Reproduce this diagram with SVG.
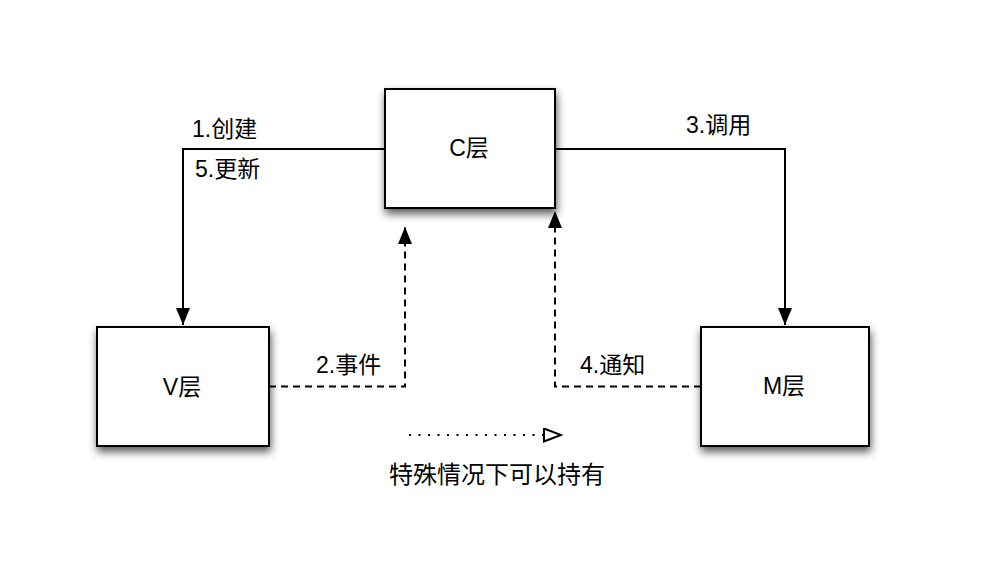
<svg xmlns="http://www.w3.org/2000/svg" width="986" height="564" viewBox="0 0 986 564">
<style>
.box{fill:#fff;stroke:#000;stroke-width:2;filter:url(#sh)}
.t{font-family:"Liberation Sans","Noto Sans CJK SC",sans-serif;font-size:23px;fill:#000}
.c{text-anchor:middle}
.solid{fill:none;stroke:#000;stroke-width:2;marker-end:url(#ah)}
.dash{fill:none;stroke:#000;stroke-width:2;stroke-dasharray:7,5;marker-end:url(#ah)}
.dot{fill:none;stroke:#000;stroke-width:2;stroke-dasharray:2,7.5;marker-end:url(#oh)}
</style>
<defs>
<filter id="sh" x="-20%" y="-20%" width="140%" height="150%">
<feDropShadow dx="1" dy="5" stdDeviation="4" flood-color="#000" flood-opacity="0.65"/>
</filter>
<marker id="ah" markerUnits="userSpaceOnUse" markerWidth="17" markerHeight="14" viewBox="0 0 17 14" refX="17" refY="7" orient="auto">
<path d="M0,0 L17,7 L0,14 z" fill="#000"/>
</marker>
<marker id="oh" markerUnits="userSpaceOnUse" markerWidth="20" markerHeight="16" viewBox="-1 -1 20 16" refX="0" refY="6.5" orient="auto">
<path d="M0,0 L17,6.5 L0,13 z" fill="#fff" stroke="#000" stroke-width="2"/>
</marker>
</defs>
<rect width="986" height="564" fill="#fff"/>
<g id="connectors">
<path class="solid" d="M385,149 H183 V325"/>
<path class="solid" d="M555,149 H785 V325"/>
<path class="dash" d="M269,386.5 H405 V227"/>
<path class="dash" d="M701,386.5 H555 V211"/>
<path class="dot" d="M409,435 H544"/>
</g>
<g id="node-c">
<rect class="box" x="385" y="89" width="170" height="119"/>
<text class="t c" x="469" y="156">C层</text>
</g>
<g id="node-v">
<rect class="box" x="97" y="327" width="172" height="119"/>
<text class="t c" x="182" y="395">V层</text>
</g>
<g id="node-m">
<rect class="box" x="701" y="327" width="168" height="119"/>
<text class="t c" x="784" y="394">M层</text>
</g>
<g id="labels">
<text class="t" x="192" y="137">1.创建</text>
<text class="t" x="195" y="177">5.更新</text>
<text class="t" x="686" y="133">3.调用</text>
<text class="t" x="316" y="373">2.事件</text>
<text class="t" x="580" y="373">4.通知</text>
<text class="t" x="389" y="483" style="font-size:24px">特殊情况下可以持有</text>
</g>
</svg>
